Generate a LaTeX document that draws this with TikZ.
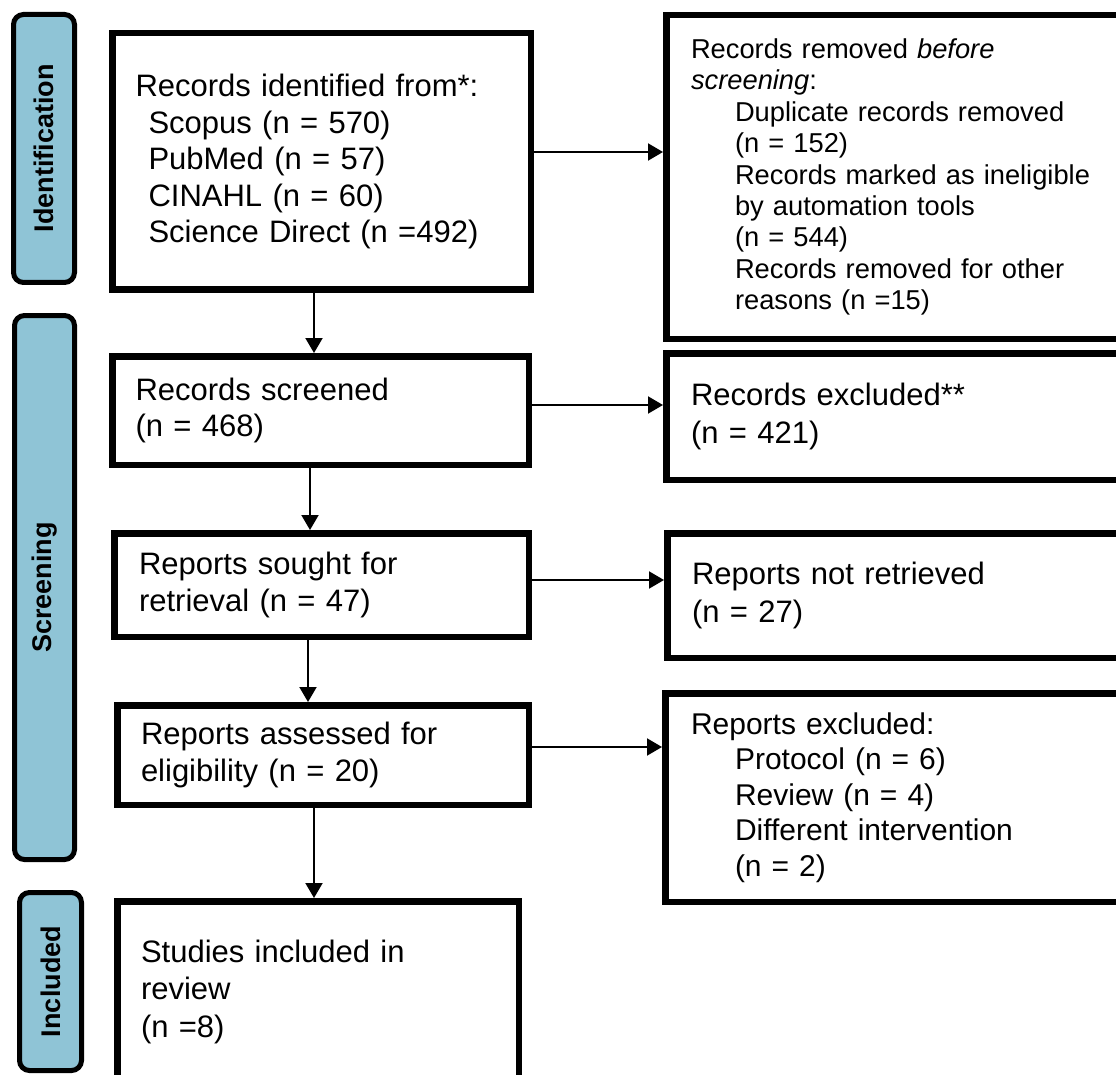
\documentclass[tikz,border=0pt]{standalone}
\usepackage{fontspec}
\setmainfont{Liberation Sans}
\usetikzlibrary{arrows.meta}
\definecolor{barblue}{RGB}{143,196,214}
\newcommand\szMain{\fontsize{31pt}{36.5pt}\selectfont}
\newcommand\szRem{\fontsize{27.3pt}{31.4pt}\selectfont}
\newcommand\szExc{\fontsize{30pt}{35.5pt}\selectfont}
\newcommand\szBig{\fontsize{31pt}{37.5pt}\selectfont}
\newcommand\ind{\hspace*{44pt}}
\begin{document}
\begin{tikzpicture}[x=1pt,y=-1pt,
  box/.style={draw=black, fill=white, line width=6.5pt, inner ysep=0pt, align=left},
  bar/.style={draw=black, fill=barblue, line width=5pt, rounded corners=10pt, rotate=90,
    font=\bfseries\fontsize{27pt}{32pt}\selectfont, inner sep=0pt},
  arr/.style={line width=2pt, -{Triangle[length=15pt,width=17pt]}}]
\useasboundingbox (0,0) rectangle (1116,1075);
\fill[white] (0,0) rectangle (1116,1075);
\clip (0,0) rectangle (1116,1075);

% phase bars
\node[bar, minimum width=268pt, minimum height=61pt] (lid) at (44,148.5) {Identification};
\node[bar, minimum width=544pt, minimum height=60pt] (lsc) at (44.5,587.5) {Screening};
\node[bar, minimum width=178pt, minimum height=62pt] (lin) at (50.5,981.5) {Included};

% left column
\node[box, font=\szMain, minimum width=418.5pt, minimum height=256.5pt, inner xsep=23.25pt, text width=372pt] (b1) at (321.5,161.5)
  {Records identified from*:\\\hspace*{13pt}Scopus (n = 570)\\\hspace*{13pt}PubMed (n = 57)\\\hspace*{13pt}CINAHL (n = 60)\\\hspace*{13pt}Science Direct (n =492)};
\node[box, font=\szMain, minimum width=416.5pt, minimum height=108.5pt, inner xsep=23.25pt, text width=370pt] (b2) at (320.5,410.5)
  {Records screened\\(n = 468)};
\node[box, font=\szBig, minimum width=414.5pt, minimum height=103.5pt, inner xsep=24.75pt, text width=365pt] (b3) at (321.5,585)
  {Reports sought for\\retrieval (n = 47)};
\node[box, font=\szMain, minimum width=411.5pt, minimum height=99.5pt, inner xsep=23.75pt, text width=364pt] (b4) at (323,755)
  {Reports assessed for\\eligibility (n = 20)};
\node[box, font=\szBig, minimum width=401.5pt, minimum height=180.5pt, inner xsep=23.75pt, text width=354pt] (b5) at (318,991.5)
  {Studies included in\\review\\(n =8)};

% right column
\node[box, font=\szRem, minimum width=470.5pt, minimum height=323.5pt, inner xsep=24.75pt, text width=421pt] (rb1) at (901.5,177)
  {Records removed \textit{before}\\\textit{screening}:\\\ind Duplicate records removed\\\ind (n = 152)\\\ind Records marked as ineligible\\\ind by automation tools\\\ind (n = 544)\\\ind Records removed for other\\\ind reasons (n =15)};
\node[box, font=\szBig, minimum width=470.5pt, minimum height=126.5pt, inner xsep=24.75pt, text width=421pt] (rb2) at (901.5,416.5)
  {Records excluded**\\(n = 421)};
\node[box, font=\szBig, minimum width=469.5pt, minimum height=124.5pt, inner xsep=24.75pt, text width=420pt] (rb3) at (902,595.5)
  {Reports not retrieved\\(n = 27)};
\node[box, font=\szExc, minimum width=471.5pt, minimum height=208.5pt, inner xsep=25.75pt, text width=420pt] (rb4) at (901,797.5)
  {Reports excluded:\\\ind Protocol (n = 6)\\\ind Review (n = 4)\\\ind Different intervention\\\ind (n = 2)};

% horizontal connectors
\coordinate (h1) at ([yshift=9.5pt]b1.east);
\draw[arr] (h1) -- (h1 -| rb1.west);
\coordinate (h2) at ([yshift=5.5pt]b2.east);
\draw[arr] (h2) -- (h2 -| rb2.west);
\coordinate (h3) at ([yshift=5pt]b3.east);
\draw[arr] (h3) -- (h3 -| rb3.west);
\coordinate (h4) at ([yshift=8pt]b4.east);
\draw[arr] (h4) -- (h4 -| rb4.west);

% vertical connectors
\coordinate (v1) at ([xshift=-7.5pt]b1.south);
\draw[arr] (v1) -- (v1 |- b2.north);
\coordinate (v2) at ([xshift=-10.5pt]b2.south);
\draw[arr] (v2) -- (v2 |- b3.north);
\coordinate (v3) at ([xshift=-13.5pt]b3.south);
\draw[arr] (v3) -- (v3 |- b4.north);
\coordinate (v4) at ([xshift=-9pt]b4.south);
\draw[arr] (v4) -- (v4 |- b5.north);
\end{tikzpicture}
\end{document}
